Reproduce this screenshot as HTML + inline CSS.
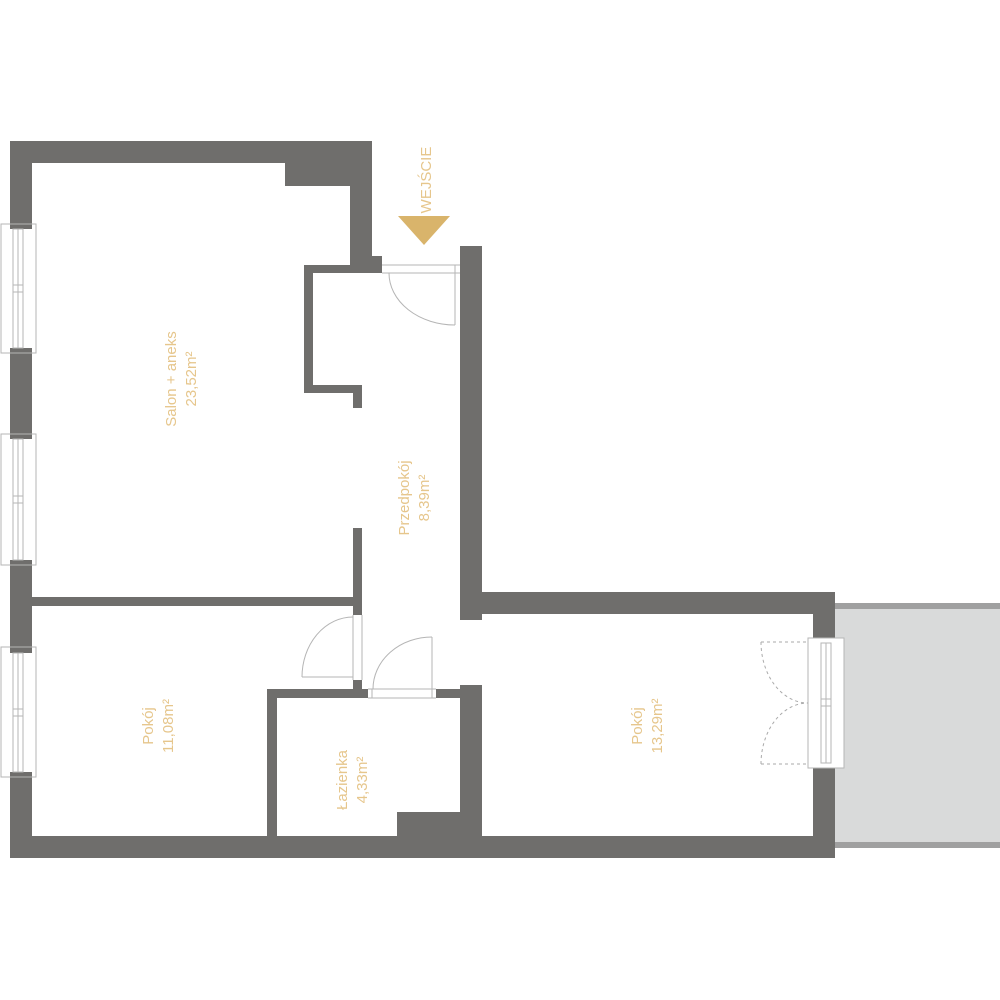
<!DOCTYPE html>
<html><head><meta charset="utf-8"><style>html,body{margin:0;padding:0;background:#fff}svg{display:block}</style></head>
<body>
<svg width="1000" height="1000" viewBox="0 0 1000 1000" xmlns="http://www.w3.org/2000/svg">
<rect x="835" y="603" width="165" height="245" fill="#d9dada"/>
<rect x="835" y="603" width="165" height="6" fill="#a0a0a0"/>
<rect x="835" y="842" width="165" height="6" fill="#a0a0a0"/>
<g fill="#6f6e6c">
<rect x="10" y="141" width="362" height="22"/>
<rect x="285" y="141" width="87" height="45"/>
<rect x="350" y="141" width="22" height="132"/>
<rect x="350" y="256" width="32" height="17"/>
<rect x="304" y="265" width="78" height="8"/>
<rect x="304" y="265" width="9" height="128"/>
<rect x="304" y="385" width="58" height="8"/>
<rect x="353" y="385" width="9" height="23"/>
<rect x="10" y="141" width="22" height="88"/>
<rect x="10" y="348" width="22" height="91"/>
<rect x="10" y="560" width="22" height="93"/>
<rect x="10" y="772" width="22" height="86"/>
<rect x="32" y="597" width="330" height="9"/>
<rect x="353" y="528" width="9" height="87"/>
<rect x="353" y="680" width="9" height="18"/>
<rect x="267" y="689" width="101" height="9"/>
<rect x="267" y="689" width="10" height="160"/>
<rect x="436" y="689" width="30" height="9"/>
<rect x="397" y="812" width="85" height="30"/>
<rect x="460" y="246" width="22" height="374"/>
<rect x="460" y="685" width="22" height="160"/>
<rect x="482" y="592" width="353" height="22"/>
<rect x="813" y="592" width="22" height="51"/>
<rect x="813" y="763" width="22" height="95"/>
<rect x="10" y="836" width="825" height="22"/>
</g>
<g fill="none" stroke="#b5b5b5" stroke-width="1">
<rect x="1" y="224" width="35" height="129"/><rect x="13" y="229" width="10" height="119"/><line x1="18" y1="229" x2="18" y2="348"/><line x1="13" y1="285" x2="23" y2="285"/><line x1="13" y1="292" x2="23" y2="292"/>
<rect x="1" y="434" width="35" height="131"/><rect x="13" y="439" width="10" height="121"/><line x1="18" y1="439" x2="18" y2="560"/><line x1="13" y1="496" x2="23" y2="496"/><line x1="13" y1="503" x2="23" y2="503"/>
<rect x="1" y="647" width="35" height="130"/><rect x="13" y="653" width="10" height="119"/><line x1="18" y1="653" x2="18" y2="772"/><line x1="13" y1="709" x2="23" y2="709"/><line x1="13" y1="716" x2="23" y2="716"/>
<line x1="382" y1="265" x2="460" y2="265"/><line x1="382" y1="273" x2="460" y2="273"/>
<line x1="455" y1="265" x2="455" y2="325"/>
<path d="M389 273 A66 52 0 0 0 455 325"/>
<line x1="353" y1="615" x2="353" y2="680"/><line x1="362" y1="615" x2="362" y2="680"/>
<line x1="302" y1="677" x2="353" y2="677"/>
<path d="M302 677 A51 60 0 0 1 353 617"/>
<line x1="368" y1="689" x2="436" y2="689"/><line x1="368" y1="698" x2="436" y2="698"/>
<line x1="432" y1="637" x2="432" y2="698"/><line x1="372" y1="689" x2="372" y2="698"/>
<path d="M373 689 A59 52 0 0 1 432 637"/>
<rect x="808" y="638" width="36" height="130" fill="#fff"/>
<rect x="821" y="643" width="10" height="120"/><line x1="826" y1="643" x2="826" y2="763"/>
<line x1="821" y1="699" x2="831" y2="699"/><line x1="821" y1="706" x2="831" y2="706"/>
</g>
<g fill="none" stroke="#aaa" stroke-width="1" stroke-dasharray="3,3">
<line x1="761" y1="642" x2="808" y2="642"/><path d="M761 642 A47 61 0 0 0 808 703"/>
<line x1="761" y1="764" x2="808" y2="764"/><path d="M761 764 A47 61 0 0 1 808 703"/>
</g>
<polygon points="398,216 450,216 424,245" fill="#d9b46b"/>
<g font-family="Liberation Sans, sans-serif" fill="#e6c68c" font-size="15" text-anchor="middle">
<text transform="translate(431,180) rotate(-90)" font-size="15">WEJŚCIE</text>
<text transform="translate(176,379) rotate(-90)"><tspan x="0" y="0">Salon + aneks</tspan><tspan x="0" y="20">23,52m²</tspan></text>
<text transform="translate(409,498) rotate(-90)"><tspan x="0" y="0">Przedpokój</tspan><tspan x="0" y="20">8,39m²</tspan></text>
<text transform="translate(153,726) rotate(-90)"><tspan x="0" y="0">Pokój</tspan><tspan x="0" y="20">11,08m²</tspan></text>
<text transform="translate(347,780) rotate(-90)"><tspan x="0" y="0">Łazienka</tspan><tspan x="0" y="20">4,33m²</tspan></text>
<text transform="translate(642,726) rotate(-90)"><tspan x="0" y="0">Pokój</tspan><tspan x="0" y="20">13,29m²</tspan></text>
</g>
</svg>
</body></html>
